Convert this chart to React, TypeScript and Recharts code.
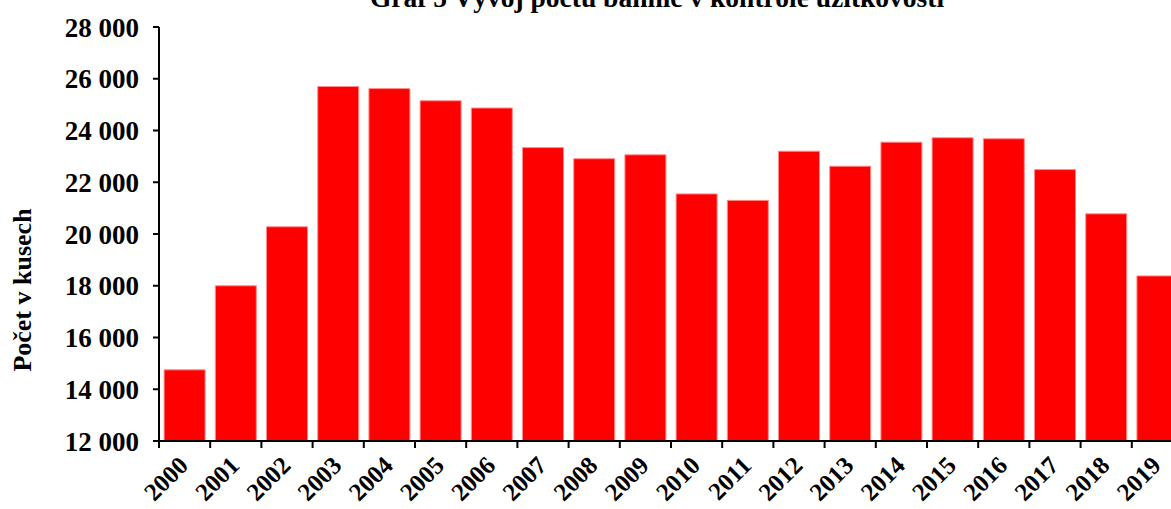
import React from "react";
import { Bar, BarChart, XAxis, YAxis } from "recharts";

const title = "Graf 5 Vývoj počtu bahnic v kontrole užitkovosti";
const yLabel = "Počet v kusech";
const years = [
  "2000", "2001", "2002", "2003", "2004", "2005", "2006", "2007", "2008", "2009",
  "2010", "2011", "2012", "2013", "2014", "2015", "2016", "2017", "2018", "2019",
];
const ewes = [
  14750, 18000, 20280, 25700, 25620, 25150, 24870, 23340, 22910, 23060,
  21550, 21300, 23200, 22620, 23550, 23720, 23680, 22490, 20780, 18380,
];
const yTicks = [12000, 14000, 16000, 18000, 20000, 22000, 24000, 26000, 28000];

const data = years.map((year, i) => ({ year, count: ewes[i] }));

const FONT = "'Liberation Serif', 'Times New Roman', serif";
const CHART_W = 1200;
const CHART_H = 509;
const margin = { top: 27, right: 17, bottom: 0, left: 0 };
const Y_AXIS_W = 159;
const X_AXIS_H = 68;
const BAND = (CHART_W - margin.left - margin.right - Y_AXIS_W) / years.length;

const fmt = (v: number) => `${Math.round(v / 1000)} 000`;

function YearTick(props: any) {
  const { x, y, payload } = props;
  const bx = x - BAND / 2;
  return (
    <g>
      <line x1={bx} y1={y} x2={bx} y2={y + 7} stroke="#000" strokeWidth={2} />
      <text
        transform={`translate(${x + 5},${y + 26}) rotate(-45)`}
        textAnchor="end"
        fontFamily={FONT}
        fontWeight="bold"
        fontSize={25}
        fill="#000"
      >
        {payload.value}
      </text>
    </g>
  );
}

function AxisTitle(props: any) {
  const { viewBox } = props;
  const cx = viewBox.x + 31;
  const cy = 290;
  return (
    <text
      transform={`translate(${cx},${cy}) rotate(-90)`}
      textAnchor="middle"
      fontFamily={FONT}
      fontWeight="bold"
      fontSize={26}
      fill="#000"
    >
      {yLabel}
    </text>
  );
}

export default function App() {
  return (
    <div
      style={{
        position: "absolute",
        left: 0,
        top: 0,
        width: 1171,
        height: 509,
        overflow: "hidden",
        background: "#fff",
      }}
    >
      <svg
        width={1171}
        height={30}
        style={{ position: "absolute", left: 0, top: 0, zIndex: 1 }}
      >
        <text
          x={657}
          y={7}
          textAnchor="middle"
          fontFamily={FONT}
          fontWeight="bold"
          fontSize={27.5}
          fill="#000"
        >
          {title}
        </text>
      </svg>
      <BarChart
        width={CHART_W}
        height={CHART_H}
        data={data}
        margin={margin}
        barCategoryGap="10%"
      >
        <XAxis
          dataKey="year"
          height={X_AXIS_H}
          interval={0}
          tickLine={false}
          tickSize={0}
          tickMargin={0}
          tick={<YearTick />}
          axisLine={{ stroke: "#000", strokeWidth: 2 }}
        />
        <YAxis
          width={Y_AXIS_W}
          domain={[12000, 28000]}
          ticks={yTicks}
          interval={0}
          allowDataOverflow
          tickFormatter={fmt}
          tickSize={6}
          tickMargin={14}
          axisLine={{ stroke: "#000", strokeWidth: 2 }}
          tickLine={{ stroke: "#000", strokeWidth: 2 }}
          tick={{ fill: "#000", fontFamily: FONT, fontWeight: "bold", fontSize: 27 }}
          label={<AxisTitle />}
        />
        <Bar
          dataKey="count"
          fill="#ff0000"
          stroke="#ff8c8c"
          strokeWidth={1}
          isAnimationActive={false}
        />
      </BarChart>
    </div>
  );
}
